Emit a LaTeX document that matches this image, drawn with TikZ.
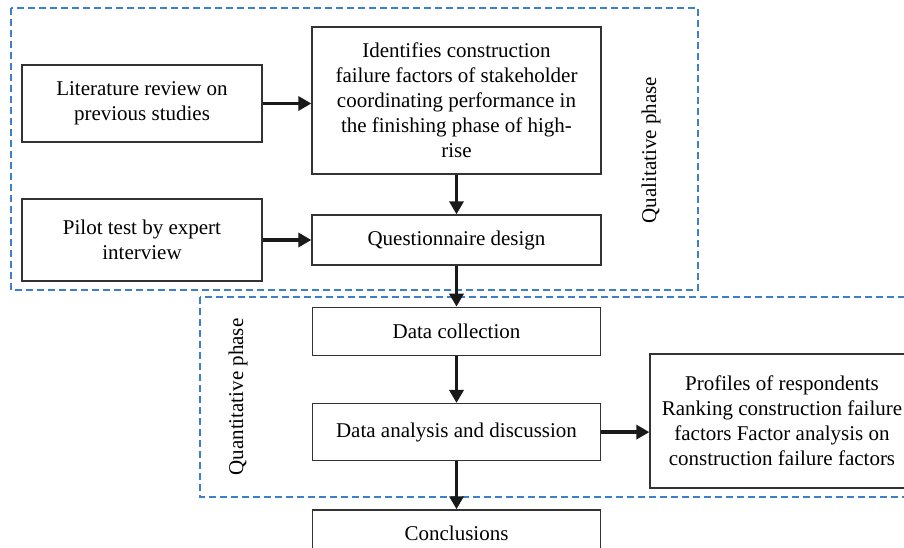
\documentclass[tikz,border=0pt]{standalone}
\usepackage{fontspec}
\setmainfont{Liberation Serif}
\usepackage{xcolor}
\usepackage{tikz}
\usetikzlibrary{positioning,arrows.meta}
\definecolor{phaseblue}{RGB}{62,128,200}
\tikzset{step box/.style={draw=black!80,line width=1.3pt,fill=white,align=center,inner sep=2pt,font=\fontsize{21}{25}\selectfont},}
\tikzset{flow arrow/.style={line width=3.5pt,black!90,-{Triangle[length=13pt,width=14pt]}},}
\tikzset{phase frame/.style={draw=phaseblue,line width=1.2pt,dash pattern=on 7pt off 4pt},}
\tikzset{phase label/.style={rotate=90,font=\fontsize{21}{25}\selectfont},}

\begin{document}
\begin{tikzpicture}[x=1pt,y=-1pt]
       \useasboundingbox (0,0) rectangle (904,548);
       \clip (0,0) rectangle (904,548);

       % qualitative phase
       \draw[phase frame] (11,8) rectangle (698,290);
       \node[phase label] (qual) at (651,150) {Qualitative phase};

       \node[step box,minimum width=240pt,minimum height=77pt] (lit) at (142,103.5) {Literature review on\\previous studies};
       \node[step box,minimum width=289pt,minimum height=147pt] (ident) at (456.5,100.5) {Identifies construction\\failure factors of stakeholder\\coordinating performance in\\the finishing phase of high-\\rise};
       \node[step box,minimum width=240pt,minimum height=82pt] (pilot) at (142,240) {Pilot test by expert\\interview};
       \node[step box,minimum width=289pt,minimum height=50pt] (quest) at (456.5,240) {Questionnaire design};

       % quantitative phase
       \draw[phase frame] (200,297) rectangle (930,497);
       \node[phase label] (quant) at (238,397) {Quantitative phase};

       \node[step box,minimum width=288pt,minimum height=48pt] (coll) [below = 41pt of quest] {Data collection};
       \node[step box,minimum width=288pt,minimum height=57pt] (anal) [below = 47pt of coll] {Data analysis and discussion};
       \node[step box,minimum width=264pt,minimum height=134pt] (prof) at (782,421) {Profiles of respondents\\Ranking construction failure\\factors Factor analysis on\\construction failure factors};
       \node[step box,minimum width=288pt,minimum height=46pt] (concl) [below = 48pt of anal] {Conclusions};

       \draw[flow arrow] (lit.east) -- (lit.east -| ident.west);
       \draw[flow arrow] (pilot.east) -- (quest.west);
       \draw[flow arrow] (ident) -- (quest);
       \draw[flow arrow] (quest) -- (coll);
       \draw[flow arrow] (coll) -- (anal);
       \draw[flow arrow] (anal.east) -- (anal.east -| prof.west);
       \draw[flow arrow] (anal) -- (concl);
    \end{tikzpicture}
\end{document}
